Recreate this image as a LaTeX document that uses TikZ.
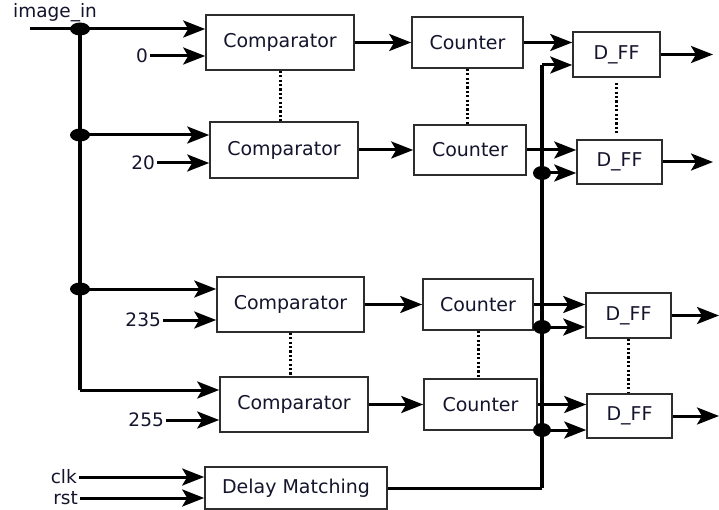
\documentclass[tikz,border=0pt]{standalone}
\usepackage{fontspec}
\setmainfont{DejaVu Sans}
\usetikzlibrary{arrows.meta,calc}
\definecolor{textc}{RGB}{20,20,45}
\definecolor{boxc}{RGB}{45,45,45}
\tikzset{
  blk/.style={draw=boxc, line width=1.6pt, fill=white, inner sep=0pt, text=textc,
    font=\fontsize{19}{22}\selectfont},
  lbl/.style={inner sep=2pt, text=textc, font=\fontsize{18.5}{22}\selectfont},
  wire/.style={line width=3pt, -{Stealth[length=22pt,width=17pt,inset=5pt]}},
  plainwire/.style={line width=3pt},
  bus/.style={line width=3.5pt},
  dotline/.style={line width=3pt, dash pattern=on 2.2pt off 2.2pt},
  junc/.style={fill=black},
}
\begin{document}
\begin{tikzpicture}[x=1pt,y=-1pt]
\useasboundingbox (0,0) rectangle (719,510);
% blocks
\node[blk, minimum width=148pt, minimum height=55pt] (c1) at (280,42.5) {Comparator};
\node[blk, minimum width=148pt, minimum height=56pt] (c2) at (284,150) {Comparator};
\node[blk, minimum width=147pt, minimum height=55pt] (c3) at (290.5,304.5) {Comparator};
\node[blk, minimum width=148pt, minimum height=55pt] (c4) at (294,404.5) {Comparator};
\node[blk, minimum width=182pt, minimum height=42pt] (dm) at (296,488) {Delay Matching};
\node[blk, minimum width=111pt, minimum height=51pt] (n1) at (467.5,42.5) {Counter};
\node[blk, minimum width=112pt, minimum height=50pt] (n2) at (470,150) {Counter};
\node[blk, minimum width=110pt, minimum height=51pt] (n3) at (478,304.5) {Counter};
\node[blk, minimum width=113pt, minimum height=51pt] (n4) at (480.5,404.5) {Counter};
\node[blk, minimum width=87pt, minimum height=45pt] (d1) at (616.5,54.5) {D\_FF};
\node[blk, minimum width=85pt, minimum height=44pt] (d2) at (619.5,162) {D\_FF};
\node[blk, minimum width=85pt, minimum height=45pt] (d3) at (628.5,315.5) {D\_FF};
\node[blk, minimum width=85pt, minimum height=44pt] (d4) at (629.5,416) {D\_FF};
% labels
\node[lbl] (lin) at (55,13) {image\_in};
\node[lbl, anchor=east] (l0) at (150,56) {0};
\node[lbl, anchor=east] (l20) at (157,163) {20};
\node[lbl, anchor=east] (l235) at (163,320) {235};
\node[lbl, anchor=east] (l255) at (166,420) {255};
\node[lbl, anchor=east] (lclk) at (79,477) {clk};
\node[lbl, anchor=east] (lrst) at (80,498) {rst};
% coordinates
\coordinate (in0) at (30,29);
\coordinate (j1) at (80,29);
\coordinate (j2) at (80,135);
\coordinate (j3) at (80,289);
\coordinate (j4) at (80,390);
\coordinate (k0) at (542,488);
\coordinate (k1) at (542,65);
\coordinate (k2) at (542,173);
\coordinate (k3) at (542,327);
\coordinate (k4) at (542,430);
\coordinate (o1) at (713,54.5);
\coordinate (o2) at (713,162);
\coordinate (o3) at (719,315.5);
\coordinate (o4) at (719,416);
% input bus
\draw[wire] (in0) -- (in0 -| c1.west);
\draw[bus] (j1) -- (j4);
\draw[wire] (j4) -- (j4 -| c4.west);
\draw[wire] (j2) -- (j2 -| c2.west);
\draw[wire] (j3) -- (j3 -| c3.west);
\draw[wire] (l0.east) -- (l0.east -| c1.west);
\draw[wire] (l20.east) -- (l20.east -| c2.west);
\draw[wire] (l235.east) -- (l235.east -| c3.west);
\draw[wire] (l255.east) -- (l255.east -| c4.west);
\draw[wire] (lclk.east) -- (lclk.east -| dm.west);
\draw[wire] (lrst.east) -- (lrst.east -| dm.west);
% comparator -> counter
\draw[wire] (c1.east) -- (c1.east -| n1.west);
\draw[wire] (c2.east) -- (c2.east -| n2.west);
\draw[wire] (c3.east) -- (c3.east -| n3.west);
\draw[wire] (c4.east) -- (c4.east -| n4.west);
% counter -> dff
\draw[wire] (n1.east) -- (n1.east -| d1.west);
\draw[wire] (n2.east) -- (n2.east -| d2.west);
\draw[wire] (n3.east) -- (n3.east -| d3.west);
\draw[wire] (n4.east) -- (n4.east -| d4.west);
% clock bus
\draw[plainwire] (dm.east) -- (k0);
\draw[bus] (k0) -- (k1);
\draw[wire] (k1) -- (k1 -| d1.west);
\draw[wire] (k2) -- (k2 -| d2.west);
\draw[wire] (k3) -- (k3 -| d3.west);
\draw[wire] (k4) -- (k4 -| d4.west);
% outputs
\draw[wire] (d1.east |- o1) -- (o1);
\draw[wire] (d2.east |- o2) -- (o2);
\draw[wire] (d3.east |- o3) -- (o3);
\draw[wire] (d4.east |- o4) -- (o4);
% dotted
\draw[dotline] (c1.south) coordinate (a1) -- (a1 |- c2.north);
\draw[dotline] (n1.south) coordinate (a2) -- (a2 |- n2.north);
\draw[dotline] ([yshift=-5pt]d1.south) coordinate (a3) -- ([yshift=5pt]a3 |- d2.north);
\draw[dotline] (c3.south) coordinate (a4) -- (a4 |- c4.north);
\draw[dotline] (n3.south) coordinate (a5) -- (a5 |- n4.north);
\draw[dotline] (d3.south) coordinate (a6) -- (a6 |- d4.north);
% junction dots
\foreach \p in {j1,j2,j3} \fill[junc] (\p) ellipse [x radius=10pt, y radius=6.5pt];
\foreach \p in {k2,k3,k4} \fill[junc] (\p) ellipse [x radius=9pt, y radius=7pt];
\end{tikzpicture}
\end{document}
